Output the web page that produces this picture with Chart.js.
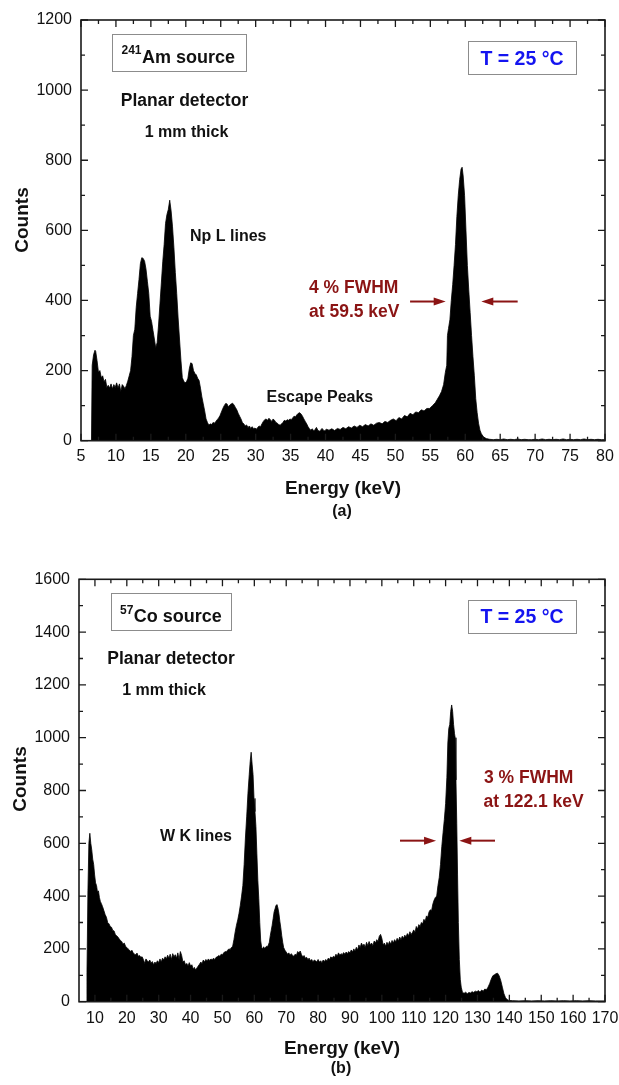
<!DOCTYPE html>
<html>
<head>
<meta charset="utf-8">
<script src="https://cdn.jsdelivr.net/npm/chart.js@4.4.1/dist/chart.umd.min.js"></script>
<style>
  html, body { margin: 0; padding: 0; background: #fff; }
  #wrap { position: relative; width: 619px; height: 1085px; }
  canvas { position: absolute; left: 0; }
  #amChart { top: 0; }
  #coChart { top: 540px; }
</style>
</head>
<body>
<div id="wrap">
  <canvas id="amChart" width="619" height="540"></canvas>
  <canvas id="coChart" width="619" height="545"></canvas>
</div>
<script>
// 241Am spectrum (keV / counts)
const amEnergy = [
  6.0, 6.5, 6.6, 6.8, 7.0, 7.1, 7.3, 7.5, 7.7, 7.9,
  8.1, 8.3, 8.5, 8.7, 8.9, 9.1, 9.3, 9.5, 9.7, 9.9,
  10.1, 10.3, 10.5, 10.7, 10.9, 11.1, 11.3, 11.5, 11.7, 11.9,
  12.1, 12.3, 12.5, 12.7, 12.9, 13.1, 13.3, 13.5, 13.7, 13.9,
  14.1, 14.3, 14.5, 14.7, 14.9, 15.1, 15.3, 15.5, 15.7, 15.9,
  16.1, 16.3, 16.5, 16.7, 16.9, 17.1, 17.3, 17.5, 17.7, 17.9,
  18.1, 18.3, 18.5, 18.7, 18.9, 19.1, 19.3, 19.5, 19.7, 19.9,
  20.1, 20.3, 20.5, 20.7, 20.9, 21.1, 21.3, 21.5, 21.7, 21.9,
  22.1, 22.3, 22.5, 22.7, 22.9, 23.1, 23.3, 23.5, 23.7, 23.9,
  24.1, 24.3, 24.5, 24.7, 24.9, 25.1, 25.3, 25.5, 25.7, 25.9,
  26.1, 26.3, 26.5, 26.7, 26.9, 27.1, 27.3, 27.5, 27.7, 27.9,
  28.1, 28.3, 28.5, 28.7, 28.9, 29.1, 29.3, 29.5, 29.7, 29.9,
  30.1, 30.3, 30.5, 30.7, 30.9, 31.1, 31.3, 31.5, 31.7, 31.9,
  32.1, 32.3, 32.5, 32.7, 32.9, 33.1, 33.3, 33.5, 33.7, 33.9,
  34.1, 34.3, 34.5, 34.7, 34.9, 35.1, 35.3, 35.5, 35.7, 35.9,
  36.1, 36.3, 36.5, 36.7, 36.9, 37.1, 37.3, 37.5, 37.7, 37.9,
  38.1, 38.3, 38.5, 38.7, 38.9, 39.1, 39.3, 39.5, 39.7, 39.9,
  40.1, 40.5, 40.9, 41.3, 41.7, 42.1, 42.5, 42.9, 43.3, 43.7,
  44.1, 44.5, 44.9, 45.3, 45.7, 46.1, 46.5, 46.9, 47.3, 47.7,
  48.1, 48.5, 48.9, 49.3, 49.7, 50.1, 50.5, 50.9, 51.3, 51.7,
  52.1, 52.5, 52.9, 53.3, 53.7, 54.1, 54.5, 54.9, 55.3, 55.7,
  56.0, 56.3, 56.6, 56.9, 57.15, 57.35, 57.45, 57.6, 57.8, 58.0,
  58.2, 58.4, 58.6, 58.8, 59.0, 59.2, 59.4, 59.55, 59.7, 59.9,
  60.1, 60.3, 60.5, 60.7, 60.9, 61.1, 61.3, 61.5, 61.7, 61.9,
  62.1, 62.3, 62.6, 63.0, 63.5, 64.0, 64.5, 65.0, 65.5, 66.0,
  66.5, 67.0, 67.5, 68.0, 68.5, 69.0, 69.5, 70.0, 70.5, 71.0,
  71.5, 72.0, 72.5, 73.0, 73.5, 74.0, 74.5, 75.0, 75.5, 76.0,
  76.5, 77.0, 77.5, 78.0, 78.5, 79.0, 79.5, 80.0
];
const amCounts = [
  0, 0, 215, 245, 258, 255, 228, 195, 200, 180,
  185, 168, 175, 152, 158, 150, 162, 148, 160, 152,
  165, 150, 162, 140, 160, 155, 148, 158, 170, 185,
  200, 240, 300, 318, 380, 420, 460, 505, 522, 520,
  512, 490, 455, 420, 355, 340, 315, 290, 265, 280,
  330, 390, 450, 510, 560, 620, 645, 660, 686, 655,
  610, 550, 480, 420, 350, 290, 230, 180, 170, 165,
  168, 178, 205, 222, 220, 200, 192, 188, 178, 172,
  150, 125, 105, 85, 62, 52, 44, 48, 46, 52,
  50, 55, 60, 65, 72, 82, 92, 100, 106, 105,
  96, 102, 105, 107, 102, 95, 88, 78, 70, 62,
  52, 48, 42, 45, 38, 42, 35, 40, 34, 36,
  33, 38, 42, 40, 48, 55, 60, 62, 58, 64,
  60, 55, 62, 58, 52, 50, 46, 44, 48, 52,
  58, 56, 60, 58, 62, 60, 65, 70, 68, 74,
  78, 80, 76, 70, 62, 55, 48, 40, 34, 30,
  34, 28, 32, 38, 30, 27, 30, 35, 30, 28,
  33, 30, 34, 29, 35, 32, 38, 34, 40, 36,
  42, 38, 44, 40, 46, 42, 48, 44, 50, 52,
  48, 55, 52, 58, 62, 57, 66, 62, 72, 68,
  78, 74, 82, 80, 88, 85, 92, 92, 100, 108,
  118, 128, 140, 160, 195, 215, 300, 320, 345, 400,
  445, 500, 560, 640, 700, 745, 775, 780, 755, 700,
  600, 500, 430, 365, 300, 240, 185, 120, 80, 50,
  30, 20, 11, 6, 4, 3, 4, 3, 5, 3,
  4, 3, 5, 3, 4, 3, 3, 4, 3, 5,
  3, 4, 3, 4, 3, 5, 3, 4, 3, 4,
  3, 5, 3, 4, 3, 4, 3, 3
];

// 57Co spectrum (keV / counts)
const coEnergy = [
  7.0, 7.4, 7.5, 7.8, 8.1, 8.4, 8.7, 9.0, 9.3, 9.6,
  9.9, 10.2, 10.5, 10.8, 11.1, 11.4, 11.7, 12.0, 12.4, 12.8,
  13.2, 13.6, 14.0, 14.4, 14.8, 15.2, 15.6, 16.0, 16.4, 16.8,
  17.2, 17.6, 18.0, 18.4, 18.8, 19.2, 19.6, 20.0, 20.4, 20.8,
  21.2, 21.6, 22.0, 22.4, 22.8, 23.2, 23.6, 24.0, 24.4, 24.8,
  25.2, 25.6, 26.0, 26.4, 26.8, 27.2, 27.6, 28.0, 28.4, 28.8,
  29.2, 29.6, 30.0, 30.4, 30.8, 31.2, 31.6, 32.0, 32.4, 32.8,
  33.2, 33.6, 34.0, 34.4, 34.8, 35.2, 35.6, 36.0, 36.4, 36.8,
  37.2, 37.6, 38.0, 38.4, 38.8, 39.2, 39.6, 40.0, 40.4, 40.8,
  41.2, 41.6, 42.0, 42.4, 42.8, 43.2, 43.6, 44.0, 44.4, 44.8,
  45.2, 45.6, 46.0, 46.4, 46.8, 47.2, 47.6, 48.0, 48.4, 48.8,
  49.2, 49.6, 50.0, 50.4, 50.8, 51.2, 51.6, 52.0, 52.4, 52.8,
  53.2, 53.6, 54.0, 54.4, 54.8, 55.2, 55.6, 56.0, 56.4, 56.8,
  57.2, 57.6, 58.0, 58.4, 58.7, 59.0, 59.3, 59.6, 59.9, 60.2,
  60.5, 60.8, 61.1, 61.4, 61.7, 62.0, 62.3, 62.6, 62.9, 63.2,
  63.5, 63.8, 64.1, 64.4, 64.7, 65.0, 65.3, 65.6, 65.9, 66.2,
  66.5, 66.8, 67.1, 67.4, 67.7, 68.0, 68.3, 68.6, 68.9, 69.2,
  69.6, 70.0, 70.4, 70.8, 71.2, 71.6, 72.0, 72.4, 72.8, 73.2,
  73.6, 74.0, 74.4, 74.8, 75.2, 75.6, 76.0, 76.4, 76.8, 77.2,
  77.6, 78.0, 78.4, 78.8, 79.2, 79.6, 80.0, 80.4, 80.8, 81.2,
  81.6, 82.0, 82.4, 82.8, 83.2, 83.6, 84.0, 84.4, 84.8, 85.2,
  85.6, 86.0, 86.4, 86.8, 87.2, 87.6, 88.0, 88.4, 88.8, 89.2,
  89.6, 90.0, 90.4, 90.8, 91.2, 91.6, 92.0, 92.4, 92.8, 93.2,
  93.6, 94.0, 94.4, 94.8, 95.2, 95.6, 96.0, 96.4, 96.8, 97.2,
  97.6, 98.0, 98.4, 98.8, 99.2, 99.6, 100.0, 100.4, 100.8, 101.2,
  101.6, 102.0, 102.4, 102.8, 103.2, 103.6, 104.0, 104.4, 104.8, 105.2,
  105.6, 106.0, 106.4, 106.8, 107.2, 107.6, 108.0, 108.4, 108.8, 109.2,
  109.6, 110.0, 110.4, 110.8, 111.2, 111.6, 112.0, 112.4, 112.8, 113.2,
  113.6, 114.0, 114.4, 114.8, 115.2, 115.6, 116.0, 116.4, 116.8, 117.2,
  117.6, 118.0, 118.4, 118.8, 119.2, 119.6, 120.0, 120.4, 120.7, 121.0,
  121.3, 121.6, 121.9, 122.2, 122.5, 122.8, 123.0, 123.25, 123.5, 123.75,
  124.0, 124.3, 124.6, 124.9, 125.3, 125.8, 126.3, 126.8, 127.3, 127.8,
  128.3, 128.8, 129.3, 129.8, 130.3, 130.8, 131.3, 131.8, 132.3, 132.8,
  133.3, 133.8, 134.3, 134.8, 135.3, 135.8, 136.3, 136.8, 137.3, 137.8,
  138.3, 138.8, 139.3, 139.8, 141, 143, 145, 147, 149, 151,
  153, 155, 157, 159, 161, 163, 165, 167, 170
];
const coCounts = [
  0, 0, 110, 420, 600, 638, 600, 575, 540, 520,
  480, 450, 440, 415, 420, 395, 380, 372, 360, 345,
  330, 320, 300, 295, 285, 282, 270, 268, 255, 250,
  245, 238, 232, 228, 218, 222, 210, 205, 200, 196,
  190, 195, 185, 180, 178, 184, 172, 175, 168, 170,
  160, 145, 162, 155, 150, 158, 146, 152, 140, 150,
  145, 155, 148, 162, 150, 165, 158, 170, 162, 176,
  165, 180, 160, 182, 170, 178, 165, 185, 160, 190,
  175, 150, 155, 140, 145, 135, 148, 135, 140, 125,
  130, 120, 128, 135, 142, 150, 145, 158, 150, 160,
  155, 162, 156, 162, 158, 165, 160, 168, 170, 175,
  172, 180, 178, 185, 190, 188, 195, 200, 198, 205,
  210, 235, 265, 290, 310, 335, 365, 400, 440, 520,
  620, 700, 790, 860, 910, 945, 900, 860, 770, 720,
  663, 560, 460, 390, 300, 230, 205, 200, 208, 202,
  205, 210, 208, 215, 225, 250, 270, 290, 315, 340,
  352, 365, 368, 355, 335, 305, 280, 250, 225, 205,
  195, 188, 180, 185, 176, 182, 175, 172, 180, 176,
  190, 185, 192, 178, 170, 175, 165, 168, 160, 165,
  155, 160, 150, 158, 155, 150, 160, 150, 155, 148,
  158, 152, 160, 155, 165, 160, 170, 165, 172, 168,
  180, 172, 185, 176, 182, 178, 186, 180, 188, 182,
  190, 184, 196, 188, 200, 192, 206, 196, 215, 205,
  222, 212, 218, 205, 225, 212, 228, 215, 222, 212,
  230, 222, 235, 228, 248, 255, 240, 215, 222, 210,
  225, 215, 228, 218, 232, 222, 235, 226, 240, 230,
  245, 235, 248, 240, 252, 245, 258, 250, 265, 255,
  262, 272, 262, 285, 275, 292, 285, 300, 295, 312,
  305, 325, 320, 340, 348, 345, 370, 385, 395, 400,
  440, 470, 520, 587, 640, 690, 750, 850, 980, 1035,
  1050, 1100, 1124, 1100, 1050, 1015, 1000, 840, 676, 480,
  300, 160, 85, 55, 35, 32, 36, 30, 35, 33,
  38, 35, 40, 38, 42, 36, 44, 40, 48, 45,
  55, 68, 85, 98, 102, 106, 108, 98, 80, 55,
  30, 15, 8, 5, 4, 3, 4, 3, 4, 3,
  4, 3, 4, 3, 4, 3, 4, 3, 3
];

// axis ticks
const amXTicks = [5, 10, 15, 20, 25, 30, 35, 40, 45, 50, 55, 60, 65, 70, 75, 80];
const amYTicks = [0, 200, 400, 600, 800, 1000, 1200];
const coXTicks = [10, 20, 30, 40, 50, 60, 70, 80, 90, 100, 110, 120, 130, 140, 150, 160, 170];
const coYTicks = [0, 200, 400, 600, 800, 1000, 1200, 1400, 1600];

const FONT = '"Liberation Sans", Arial, Helvetica, sans-serif';
const RED = '#8b1414';
const BLUE = '#1414f0';

Chart.defaults.font.family = FONT;
Chart.defaults.color = '#111';

const midpoints = ticks => ticks.slice(1).map((v, i) => (v + ticks[i]) / 2);

// frame around the plot with inward ticks on all four sides
const axesFrame = {
  id: 'axesFrame',
  afterDatasetsDraw(chart, args, opts) {
    const { ctx, chartArea: a, scales: { x, y } } = chart;
    ctx.save();
    ctx.strokeStyle = '#1a1a1a';
    ctx.lineWidth = 1.3;
    ctx.beginPath();
    const xMark = (vals, len) => vals.forEach(v => {
      const px = x.getPixelForValue(v);
      ctx.moveTo(px, a.bottom); ctx.lineTo(px, a.bottom - len);
      ctx.moveTo(px, a.top); ctx.lineTo(px, a.top + len);
    });
    const yMark = (vals, len) => vals.forEach(v => {
      const py = y.getPixelForValue(v);
      ctx.moveTo(a.left, py); ctx.lineTo(a.left + len, py);
      ctx.moveTo(a.right, py); ctx.lineTo(a.right - len, py);
    });
    xMark(opts.xMajor, 7);
    xMark(midpoints(opts.xMajor), 4);
    yMark(opts.yMajor, 7);
    yMark(midpoints(opts.yMajor), 4);
    ctx.stroke();
    ctx.lineWidth = 1.6;
    ctx.strokeRect(a.left, a.top, a.right - a.left, a.bottom - a.top);
    ctx.restore();
  }
};

function label(ctx, str, x, y, size, color, align) {
  ctx.font = `bold ${size}px ${FONT}`;
  ctx.fillStyle = color || '#111';
  ctx.textAlign = align || 'left';
  ctx.textBaseline = 'alphabetic';
  ctx.fillText(str, x, y);
}

function sourceBox(ctx, rect, mass, name, tx, ty, rise) {
  ctx.strokeStyle = '#8c8c8c';
  ctx.lineWidth = 1;
  ctx.strokeRect(rect[0] + 0.5, rect[1] + 0.5, rect[2], rect[3]);
  label(ctx, mass, tx, ty - rise, 12);
  ctx.font = `bold 12px ${FONT}`;
  const w = ctx.measureText(mass).width;
  label(ctx, name, tx + w + 0.5, ty, 18);
}

function tempBox(ctx, rect, ty) {
  ctx.strokeStyle = '#8c8c8c';
  ctx.lineWidth = 1;
  ctx.strokeRect(rect[0] + 0.5, rect[1] + 0.5, rect[2], rect[3]);
  label(ctx, 'T = 25 °C', rect[0] + rect[2] / 2, ty, 19.5, BLUE, 'center');
}

function verticalTitle(ctx, str, x, y) {
  ctx.save();
  ctx.translate(x, y);
  ctx.rotate(-Math.PI / 2);
  label(ctx, str, 0, 0, 19, '#111', 'center');
  ctx.restore();
}

// horizontal arrow from e0 to e1 (keV) at a count level
function fwhmArrow(chart, e0, e1, level) {
  const { ctx, scales: { x, y } } = chart;
  const x0 = x.getPixelForValue(e0), x1 = x.getPixelForValue(e1);
  const py = y.getPixelForValue(level);
  const dir = Math.sign(x1 - x0);
  ctx.save();
  ctx.strokeStyle = RED;
  ctx.fillStyle = RED;
  ctx.lineWidth = 2;
  ctx.beginPath();
  ctx.moveTo(x0, py);
  ctx.lineTo(x1 - dir * 8, py);
  ctx.stroke();
  ctx.beginPath();
  ctx.moveTo(x1, py);
  ctx.lineTo(x1 - dir * 12, py - 4);
  ctx.lineTo(x1 - dir * 12, py + 4);
  ctx.closePath();
  ctx.fill();
  ctx.restore();
}

const amNotes = {
  id: 'amNotes',
  afterDraw(chart) {
    const ctx = chart.ctx;
    sourceBox(ctx, [112, 34, 134, 37], '241', 'Am source', 121.5, 62.7, 9);
    tempBox(ctx, [468, 41, 108, 33], 65);
    label(ctx, 'Planar detector', 184.5, 106, 17.5, '#111', 'center');
    label(ctx, '1 mm thick', 186.5, 137.3, 16, '#111', 'center');
    label(ctx, 'Np L lines', 190, 240.7, 16);
    label(ctx, '4 % FWHM', 309, 293.3, 17.5, RED);
    label(ctx, 'at 59.5 keV', 309, 317.3, 17.5, RED);
    label(ctx, 'Escape Peaks', 266.5, 401.7, 16);
    fwhmArrow(chart, 52.1, 57.2, 397);
    fwhmArrow(chart, 67.5, 62.3, 397);
    verticalTitle(ctx, 'Counts', 28.3, 220);
    label(ctx, 'Energy (keV)', 343, 493.5, 19, '#111', 'center');
    label(ctx, '(a)', 342, 516, 16, '#111', 'center');
  }
};

const coNotes = {
  id: 'coNotes',
  afterDraw(chart) {
    const ctx = chart.ctx;
    sourceBox(ctx, [111, 53, 120, 37], '57', 'Co source', 120, 81.7, 8);
    tempBox(ctx, [468, 60, 108, 33], 83.3);
    label(ctx, 'Planar detector', 171, 124, 17.5, '#111', 'center');
    label(ctx, '1 mm thick', 164, 155, 16, '#111', 'center');
    label(ctx, 'W K lines', 160, 300.7, 16);
    label(ctx, '3 % FWHM', 484, 242.7, 17.5, RED);
    label(ctx, 'at 122.1 keV', 483.5, 267.3, 17.5, RED);
    fwhmArrow(chart, 105.7, 117.0, 610);
    fwhmArrow(chart, 135.5, 124.3, 610);
    verticalTitle(ctx, 'Counts', 26.3, 239);
    label(ctx, 'Energy (keV)', 342, 514, 19, '#111', 'center');
    label(ctx, '(b)', 341, 533.3, 16, '#111', 'center');
  }
};

function spectrumChart(id, energy, counts, s) {
  const points = energy.map((e, i) => ({ x: e, y: counts[i] }));
  return new Chart(document.getElementById(id), {
    type: 'line',
    data: {
      datasets: [{
        data: points,
        borderColor: '#000',
        backgroundColor: '#000',
        borderWidth: 0.8,
        fill: 'origin',
        pointRadius: 0,
        tension: 0
      }]
    },
    options: {
      responsive: false,
      animation: false,
      devicePixelRatio: 1,
      events: [],
      layout: { padding: s.padding },
      scales: {
        x: {
          type: 'linear',
          min: s.xMin,
          max: s.xMax,
          afterBuildTicks: sc => { sc.ticks = s.xTicks.map(v => ({ value: v })); },
          afterFit: sc => {
            sc.height = 30;
            // end labels may overhang the frame
            sc.paddingLeft = 0;
            sc.paddingRight = 0;
          },
          grid: { display: false, drawTicks: false },
          border: { display: false },
          ticks: {
            autoSkip: false,
            maxRotation: 0,
            padding: s.xPad,
            font: { size: 16 },
            color: '#111',
            callback: v => String(v)
          }
        },
        y: {
          min: 0,
          max: s.yMax,
          afterBuildTicks: sc => { sc.ticks = s.yTicks.map(v => ({ value: v })); },
          afterFit: sc => { sc.width = s.yWidth; },
          grid: { display: false, drawTicks: false },
          border: { display: false },
          ticks: {
            padding: 9,
            font: { size: 16 },
            color: '#111',
            callback: v => String(v)
          }
        }
      },
      plugins: {
        legend: { display: false },
        tooltip: { enabled: false },
        axesFrame: { xMajor: s.xTicks, yMajor: s.yTicks }
      }
    },
    plugins: [axesFrame, s.notes]
  });
}

spectrumChart('amChart', amEnergy, amCounts, {
  xMin: 5, xMax: 80, yMax: 1200,
  xTicks: amXTicks, yTicks: amYTicks,
  yWidth: 81, xPad: 6,
  padding: { left: 0, top: 20, right: 14, bottom: 69.3 },
  notes: amNotes
});

spectrumChart('coChart', coEnergy, coCounts, {
  xMin: 5, xMax: 170, yMax: 1600,
  xTicks: coXTicks, yTicks: coYTicks,
  yWidth: 79, xPad: 7,
  padding: { left: 0, top: 39.3, right: 14, bottom: 53.3 },
  notes: coNotes
});
</script>
</body>
</html>
